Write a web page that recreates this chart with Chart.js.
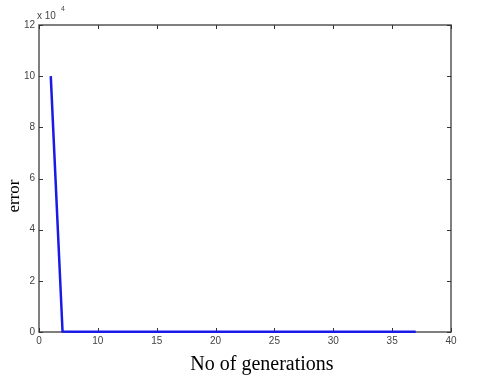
<!DOCTYPE html>
<html>
<head>
<meta charset="utf-8">
<script src="https://cdn.jsdelivr.net/npm/chart.js@4"></script>
<style>
  html, body { margin: 0; padding: 0; background: #fff; }
  #wrap { width: 478px; height: 385px; }
</style>
</head>
<body>
<div id="wrap"><canvas id="errChart" width="478" height="385"></canvas></div>
<script>
// data
const generations = [6, 7, 8, 9, 10, 11, 12, 13, 14, 15, 16, 17, 18, 19, 20, 21,
                     22, 23, 24, 25, 26, 27, 28, 29, 30, 31, 32, 33, 34, 35, 36, 37];
const errors = [100000, 150, 120, 100, 100, 90, 90, 80, 80, 80, 70, 70, 70, 70, 60, 60,
                60, 60, 60, 50, 50, 50, 50, 50, 50, 50, 50, 50, 50, 50, 50, 50];
const xTickValues = [5, 10, 15, 20, 25, 30, 35, 40];
const xTickLabels = ['0', '10', '15', '20', '25', '30', '35', '40'];
const yTickValues = [0, 20000, 40000, 60000, 80000, 100000, 120000];
const yTickLabels = ['0', '2', '4', '6', '8', '10', '12'];

// MATLAB style box, inward ticks, titles
const matlabAxes = {
    id: 'matlabAxes',
    beforeDatasetsDraw(chart) {
        const { ctx, chartArea: a, scales } = chart;
        const x = scales.x, y = scales.y;
        ctx.save();
        ctx.strokeStyle = '#555';
        ctx.lineWidth = 1.5;
        ctx.strokeRect(a.left, a.top, a.right - a.left, a.bottom - a.top);
        ctx.strokeStyle = '#333';
        ctx.lineWidth = 1;
        ctx.beginPath();
        xTickValues.forEach(v => {
            const px = Math.round(x.getPixelForValue(v)) + 0.5;
            ctx.moveTo(px, a.bottom); ctx.lineTo(px, a.bottom - 4);
            ctx.moveTo(px, a.top); ctx.lineTo(px, a.top + 4);
        });
        yTickValues.forEach(v => {
            const py = Math.round(y.getPixelForValue(v)) + 0.5;
            ctx.moveTo(a.left, py); ctx.lineTo(a.left + 4, py);
            ctx.moveTo(a.right, py); ctx.lineTo(a.right - 4, py);
        });
        ctx.stroke();
        ctx.restore();
    },
    afterDraw(chart) {
        const { ctx } = chart;
        ctx.save();
        // exponent
        ctx.fillStyle = '#444';
        ctx.font = '10px "Liberation Sans", Arial, sans-serif';
        ctx.textAlign = 'left';
        ctx.textBaseline = 'alphabetic';
        ctx.fillText('x 10', 37, 19);
        ctx.font = '7px "Liberation Sans", Arial, sans-serif';
        ctx.fillText('4', 61, 11);

        // axis titles
        ctx.fillStyle = '#000';
        ctx.font = '20px "Liberation Serif", "Times New Roman", serif';
        ctx.textAlign = 'center';
        ctx.textBaseline = 'middle';
        ctx.fillText('No of generations', 262, 365);
        ctx.save();
        ctx.translate(15, 196);
        ctx.rotate(-Math.PI / 2);
        ctx.font = '17px "Liberation Serif", "Times New Roman", serif';
        ctx.fillText('error', 0, 0);
        ctx.restore();
        ctx.restore();
    }
};

new Chart(document.getElementById('errChart'), {
    type: 'line',
    data: {
        datasets: [{
            label: 'error',
            data: generations.map((g, i) => ({ x: g, y: errors[i] })),
            borderColor: '#1a1ae6',
            borderWidth: 2.5,
            pointRadius: 0,
            tension: 0,
            fill: false,
            clip: false
        }]
    },
    options: {
        responsive: false,
        animation: false,
        layout: { padding: { top: 25, right: 27, left: 0, bottom: 0 } },
        plugins: { legend: { display: false }, tooltip: { enabled: false } },
        scales: {
            x: {
                type: 'linear',
                min: 5,
                max: 40,
                grid: { display: false, drawTicks: false },
                border: { display: false },
                afterBuildTicks: s => { s.ticks = xTickValues.map(v => ({ value: v })); },
                afterFit: s => { s.height = 53; },
                ticks: {
                    padding: 3,
                    color: '#444',
                    font: { size: 10, family: '"Liberation Sans", Arial, sans-serif' },
                    maxRotation: 0,
                    callback: (v) => xTickLabels[xTickValues.indexOf(v)]
                }
            },
            y: {
                type: 'linear',
                min: 0,
                max: 120000,
                grid: { display: false, drawTicks: false },
                border: { display: false },
                afterBuildTicks: s => { s.ticks = yTickValues.map(v => ({ value: v })); },
                afterFit: s => { s.width = 39; },
                ticks: {
                    padding: 4,
                    color: '#444',
                    font: { size: 10, family: '"Liberation Sans", Arial, sans-serif' },
                    callback: (v) => yTickLabels[yTickValues.indexOf(v)]
                }
            }
        }
    },
    plugins: [matlabAxes]
});
</script>
</body>
</html>
